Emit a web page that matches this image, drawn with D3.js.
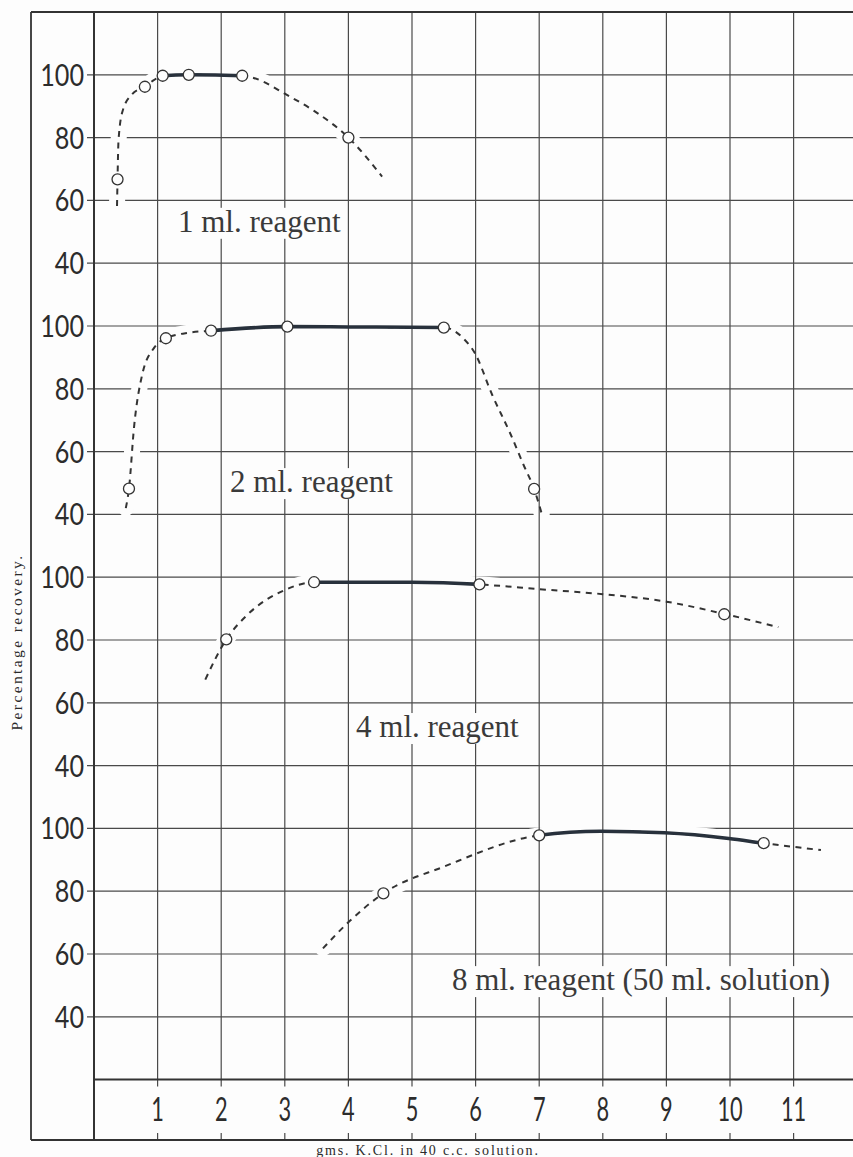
<!DOCTYPE html>
<html><head><meta charset="utf-8">
<script src="https://cdn.jsdelivr.net/npm/d3@7"></script>
<style>html,body{margin:0;padding:0;background:#fdfdfd;} svg{display:block;}</style>
</head><body>
<svg id="c" width="853" height="1157"></svg>
<script>
// ---------- data ----------
const xTickLabels = [1,2,3,4,5,6,7,8,9,10,11];
const yTickLabels = [100,80,60,40];
const panelNames = ["1 ml. reagent","2 ml. reagent","4 ml. reagent","8 ml. reagent (50 ml. solution)"];
const xTitle = "gms. K.Cl. in 40 c.c. solution.";
const yTitle = "Percentage recovery.";

// observed points (open circles): [gms KCl, % recovery]
const obs1 = [[0.37,66.7],[0.8,96.2],[1.08,99.7],[1.49,100],[2.33,99.7],[4.0,80]];
const obs2 = [[0.55,48.2],[1.13,96.1],[1.84,98.5],[3.04,99.8],[5.5,99.5],[6.92,48.1]];
const obs3 = [[2.08,80.2],[3.46,98.4],[6.06,97.7],[9.91,88.2]];
const obs4 = [[4.55,79.3],[7.0,97.8],[10.53,95.3]];

// drawn curves
const curve1 = [[0.362,58.2],[0.37,66.7],[0.385,79],[0.45,88.5],[0.6,93.8],[0.8,96.2],[0.94,98.3],[1.08,99.7],[1.49,100],[2.33,99.7],[2.51,99],[3.04,93.5],[3.46,88.5],[4.0,80],[4.53,67.6]];
const curve2 = [[0.5,42],[0.55,48.2],[0.63,67.9],[0.76,84.7],[0.95,93.2],[1.13,96.1],[1.5,97.9],[1.84,98.5],[3.04,99.8],[4.0,99.7],[5.5,99.5],[5.81,96],[5.99,91.3],[6.26,78.1],[6.54,66],[6.76,55.5],[6.92,48.1],[7.04,40.2]];
const curve3 = [[1.75,67.4],[2.08,80.2],[2.4,87.8],[3.0,95.9],[3.46,98.4],[5.0,98.4],[6.06,97.7],[7,96.2],[8,94.6],[9,92.2],[9.91,88.3],[10.76,84.1]];
const curve4 = [[3.6,61.8],[4.02,70.5],[4.55,79.3],[5.5,87.8],[7.0,97.8],[7.97,99.1],[8.97,98.6],[9.98,96.8],[10.53,95.3],[11.43,93.1]];

// solid (heavy) stretch of each curve: [from, to] in gms KCl
const solid1 = [1.08,2.33];
const solid2 = [1.84,5.5];
const solid3 = [3.46,6.06];
const solid4 = [7.0,10.53];

// label anchor of each panel: [gms KCl, % recovery]
const labelAt1 = [1.32,50];
const labelAt2 = [2.14,47.1];
const labelAt3 = [4.12,49.1];
const labelAt4 = [5.63,48.5];

const panels = [
  {obs:obs1, curve:curve1, solid:solid1, label:panelNames[0], at:labelAt1},
  {obs:obs2, curve:curve2, solid:solid2, label:panelNames[1], at:labelAt2},
  {obs:obs3, curve:curve3, solid:solid3, label:panelNames[2], at:labelAt3},
  {obs:obs4, curve:curve4, solid:solid4, label:panelNames[3], at:labelAt4}
];

// ---------- layout ----------
const svg = d3.select("#c");
const INK = "#2c2c2c";
const PAPER = "#fdfdfd";
const frameL = 31, plotL = 94, right = 853, bottomY = 1140;
const x = d3.scaleLinear().domain([0,12]).range([plotL, 857.2]);
const g = d3.scaleLinear().domain([0,17]).range([12, 1079.6]);   // grid rows
const yP = panels.map((p,i) => d3.scaleLinear().domain([100,40]).range([g(1+4*i), g(4+4*i)]));

const lineGen = (ys) => d3.line().x(d=>x(d[0])).y(d=>ys(d[1])).curve(d3.curveMonotoneX);

// 1. horizontal grid lines
const hLayer = svg.append("g");
panels.forEach((p,i) => {
  hLayer.selectAll(null).data(yTickLabels).enter().append("line")
    .attr("x1", plotL - 7).attr("x2", right)
    .attr("y1", d=>yP[i](d)).attr("y2", d=>yP[i](d))
    .attr("stroke", "#4a4a4a").attr("stroke-width", 1.2);
});

// 2. paper-coloured halos where the curves cut the horizontal rules
panels.forEach((p,i) => {
  svg.append("path").attr("d", lineGen(yP[i])(p.curve))
    .attr("fill","none").attr("stroke",PAPER).attr("stroke-width",16).attr("stroke-linecap","round");
});

// 3. vertical rules and frame
const vLayer = svg.append("g");
vLayer.selectAll(null).data(d3.range(1,13)).enter().append("line")
  .attr("x1", d=>x(d)).attr("x2", d=>x(d)).attr("y1", g(0)).attr("y2", g(17)+7)
  .attr("stroke", "#4a4a4a").attr("stroke-width", 1.2);
vLayer.selectAll(null).data(d3.range(1,13)).enter().append("line")
  .attr("x1", d=>x(d)).attr("x2", d=>x(d)).attr("y1", bottomY-7).attr("y2", bottomY)
  .attr("stroke", "#4a4a4a").attr("stroke-width", 1.2);
const frame = [
  [frameL, g(0), right, g(0), 2],
  [frameL, g(0), frameL, bottomY, 1.8],
  [plotL, g(0), plotL, bottomY, 2],
  [plotL, g(17), right, g(17), 2],
  [frameL, bottomY, right, bottomY, 2.2]
];
vLayer.selectAll(null).data(frame).enter().append("line")
  .attr("x1", d=>d[0]).attr("y1", d=>d[1]).attr("x2", d=>d[2]).attr("y2", d=>d[3])
  .attr("stroke", "#333").attr("stroke-width", d=>d[4]);

// 4. panel labels with a paper-coloured backing
panels.forEach((p,i) => {
  const t = svg.append("text")
    .attr("x", x(p.at[0])).attr("y", yP[i](p.at[1]))
    .attr("font-family", "'Liberation Serif','DejaVu Serif',serif")
    .attr("font-size", 31).attr("fill", "#3a3a3a")
    .text(p.label);
  const b = t.node().getBBox();
  svg.insert("rect", () => t.node())
    .attr("x", b.x - 3).attr("y", b.y + 4).attr("width", b.width + 6).attr("height", b.height - 4)
    .attr("fill", PAPER);
});

// 5. curves, heavy stretches, points
const defs = svg.append("defs");
panels.forEach((p,i) => {
  const d = lineGen(yP[i])(p.curve);
  svg.append("path").attr("d", d).attr("fill","none")
    .attr("stroke", "#333").attr("stroke-width", 2).attr("stroke-dasharray", "6,5.5");
  const id = "clip" + i;
  defs.append("clipPath").attr("id", id).append("rect")
    .attr("x", x(p.solid[0])).attr("width", x(p.solid[1]) - x(p.solid[0]))
    .attr("y", yP[i](115)).attr("height", yP[i](30) - yP[i](115));
  svg.append("path").attr("d", d).attr("fill","none").attr("clip-path", `url(#${id})`)
    .attr("stroke", "#28313c").attr("stroke-width", 3.6);
  svg.selectAll(null).data(p.obs).enter().append("circle")
    .attr("cx", d=>x(d[0])).attr("cy", d=>yP[i](d[1])).attr("r", 5.5)
    .attr("fill", PAPER).attr("stroke", "#333").attr("stroke-width", 1.3);
});

// 6. tick labels
panels.forEach((p,i) => {
  svg.selectAll(null).data(yTickLabels).enter().append("text")
    .attr("transform", d => `translate(84,${yP[i](d) + 11}) scale(0.84,1)`)
    .attr("text-anchor", "end")
    .attr("font-family", "Lato, 'Open Sans', sans-serif").attr("font-weight", 400)
    .attr("font-size", 30).attr("fill", INK)
    .text(d=>d);
});
svg.selectAll(null).data(xTickLabels).enter().append("text")
  .attr("transform", d => `translate(${x(d)},${1121}) scale(0.66,1)`)
  .attr("text-anchor", "middle")
  .attr("font-family", "Lato, 'Open Sans', sans-serif").attr("font-weight", 400)
  .attr("font-size", 33).attr("fill", INK)
  .text(d=>d);

// axis titles
svg.append("text")
  .attr("transform", "translate(22,642) rotate(-90)")
  .attr("text-anchor", "middle")
  .attr("font-family", "'Liberation Serif','DejaVu Serif',serif")
  .attr("font-size", 15.5).attr("letter-spacing", 2.4).attr("fill", "#2a2a2a")
  .text(yTitle);
svg.append("text")
  .attr("x", 428).attr("y", 1155)
  .attr("text-anchor", "middle")
  .attr("font-family", "'Liberation Serif','DejaVu Serif',serif")
  .attr("font-size", 14).attr("letter-spacing", 1.8).attr("fill", "#2a2a2a")
  .text(xTitle);
</script>
</body></html>
